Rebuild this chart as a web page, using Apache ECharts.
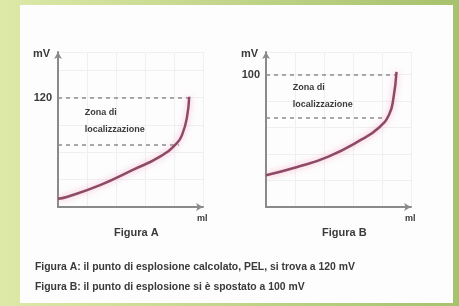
<!DOCTYPE html>
<html>
<head>
<meta charset="utf-8">
<script src="https://cdn.jsdelivr.net/npm/echarts@6/dist/echarts.min.js"></script>
<style>
  html, body { margin: 0; padding: 0; }
  #box1 { width: 459px; height: 306px; }
</style>
</head>
<body>
<div id="box1"></div>
<script>
// curve A (figura A): x in ml, y in mV
var xA = [0, 6, 29, 52, 70, 82, 86, 89, 90.5];
var yA = [9, 11, 24, 41, 55, 70, 81, 99, 121];
// curve B (figura B)
var xB = [0, 21, 43, 66, 78, 85, 88, 90];
var yB = [24, 30, 38, 51, 60, 70, 83, 102];
// dashed levels: top (punto di esplosione) and bottom of the zone
var levelsA = [120, 68];
var levelsB = [100, 67];
var titles = ['Figura A', 'Figura B'];
var captions = [
    'Figura A: il punto di esplosione calcolato, PEL, si trova a 120 mV',
    'Figura B: il punto di esplosione si è spostato a 100 mV'
];

window.onload = function () {
    var myChart = echarts.init(document.getElementById("box1"));

    var lineColor = '#8c4a66';
    var axisColor = '#8a8a8a';
    var txt = '#3a3a3a';

    function pairs(xs, ys) {
        return xs.map(function (x, i) { return [x, ys[i]]; });
    }

    function xAxisCfg(idx) {
        return {
            gridIndex: idx, type: 'value', min: 0, max: 100,
            name: 'ml', nameLocation: 'end', nameGap: -6,
            nameTextStyle: { color: txt, fontSize: 9, fontWeight: 'bold', verticalAlign: 'top', padding: [7, 0, 0, 0] },
            axisLine: { lineStyle: { color: axisColor, width: 2 }, symbol: ['none', 'arrow'], symbolSize: [6, 7] },
            axisTick: { show: false }, axisLabel: { show: false },
            splitLine: { show: true, lineStyle: { color: '#f0f0f0' } }
        };
    }

    function yAxisCfg(idx, max, label) {
        return {
            gridIndex: idx, type: 'value', min: 0, max: max,
            name: 'mV', nameLocation: 'end', nameGap: -2,
            nameTextStyle: { color: txt, fontSize: 11, fontWeight: 'bold', align: 'right', verticalAlign: 'middle', padding: [0, 8, 0, 0] },
            axisLine: { lineStyle: { color: axisColor, width: 2 }, symbol: ['none', 'arrow'], symbolSize: [6, 7] },
            axisTick: { show: false },
            axisLabel: { customValues: [label], color: txt, fontSize: 11, fontWeight: 'bold', margin: 6 },
            splitLine: { show: true, lineStyle: { color: '#f0f0f0' } }
        };
    }

    function curve(idx, xs, ys, levels) {
        var end = xs[xs.length - 1];
        var lowX = end - 7;
        return {
            type: 'line', xAxisIndex: idx, yAxisIndex: idx,
            data: pairs(xs, ys), smooth: 0.5, symbol: 'none',
            lineStyle: { color: lineColor, width: 2.5, shadowColor: 'rgba(240,120,160,0.6)', shadowBlur: 6 },
            z: 5,
            markLine: {
                silent: true, symbol: 'none', label: { show: false },
                lineStyle: { color: '#8d8d8d', type: [4, 4], width: 1.5 },
                data: [
                    [{ coord: [0, levels[0]] }, { coord: [end, levels[0]] }],
                    [{ coord: [0, levels[1]] }, { coord: [lowX, levels[1]] }]
                ]
            },
            markArea: {
                silent: true, itemStyle: { color: 'rgba(0,0,0,0)' },
                label: { show: true, position: 'insideLeft', color: txt, fontSize: 9, fontWeight: 'bold', lineHeight: 17 },
                data: [[{ name: 'Zona di\nlocalizzazione', coord: [15, levels[0]] }, { coord: [60, levels[1]] }]]
            }
        };
    }

    var capStyle = { fontSize: 10.4, fontWeight: 'bold', color: txt };

    var option = {
        backgroundColor: new echarts.graphic.LinearGradient(0, 0, 1, 0, [
            { offset: 0, color: '#dde9a8' },
            { offset: 1, color: '#a7c16c' }
        ]),
        graphic: [{
            type: 'rect', left: 20, top: 5, shape: { width: 433, height: 298 },
            style: { fill: '#fdfdfd' }, z: -10
        }],
        title: [
            { text: titles[0], left: 114, top: 227, padding: 0, textStyle: { fontSize: 11, fontWeight: 'bold', color: txt } },
            { text: titles[1], left: 322, top: 227, padding: 0, textStyle: { fontSize: 11, fontWeight: 'bold', color: txt } },
            { text: captions[0], left: 35, top: 262, padding: 0, textStyle: capStyle },
            { text: captions[1], left: 35, top: 282, padding: 0, textStyle: capStyle }
        ],
        grid: [
            { left: 58, right: 256, top: 52, bottom: 99 },
            { left: 266, right: 48, top: 52, bottom: 99 }
        ],
        xAxis: [xAxisCfg(0), xAxisCfg(1)],
        yAxis: [yAxisCfg(0, 170, levelsA[0]), yAxisCfg(1, 117, levelsB[0])],
        series: [curve(0, xA, yA, levelsA), curve(1, xB, yB, levelsB)]
    };
    myChart.setOption(option);
    window.addEventListener('resize', function () {
        myChart.resize();
    });
}
</script>
</body>
</html>
